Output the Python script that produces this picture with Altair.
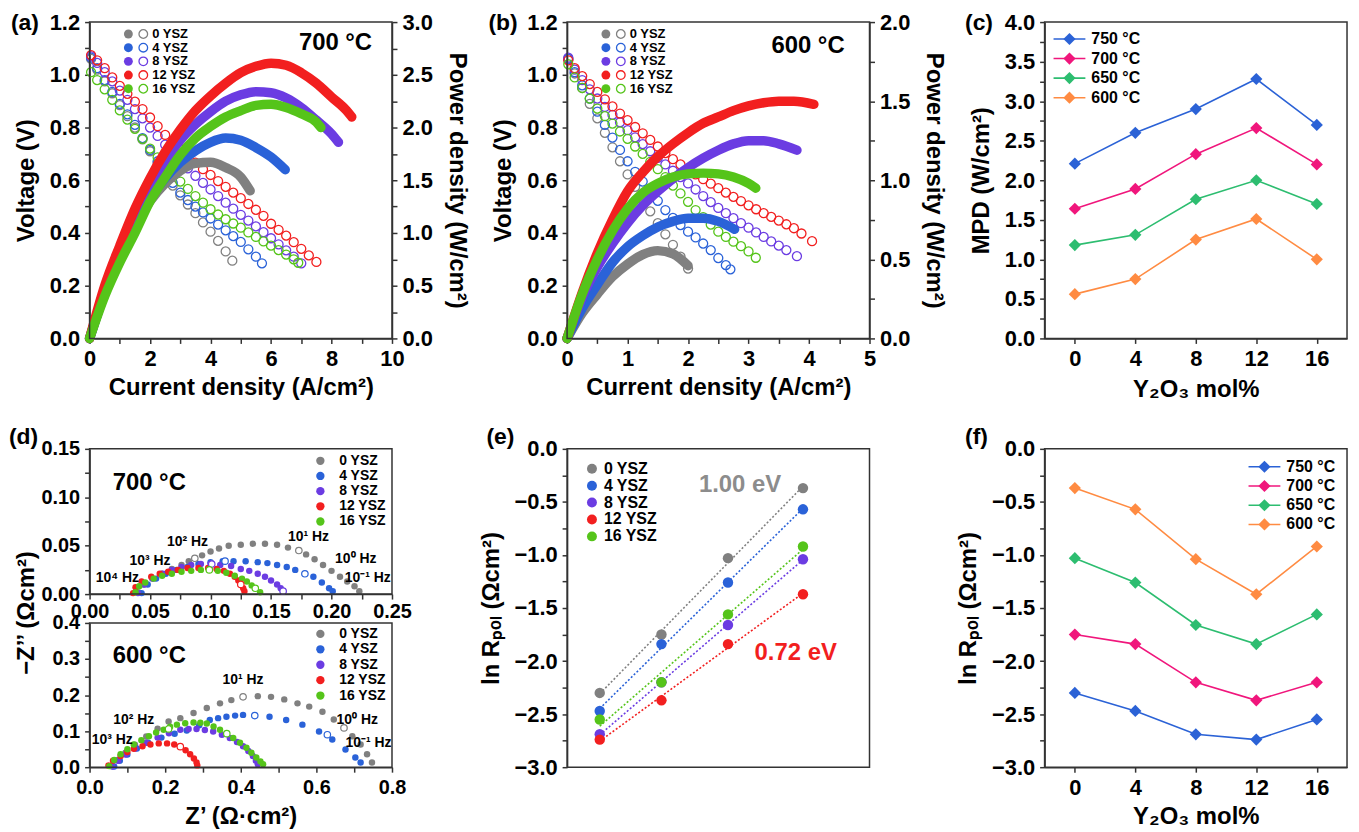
import altair as alt
import pandas as pd

FONT = "Liberation Sans"
INK = "#333333"

SERIES = ["0 YSZ", "4 YSZ", "8 YSZ", "12 YSZ", "16 YSZ"]
SERIES_COLORS = ["#808080", "#2a62d8", "#6b3ce2", "#f21f1f", "#55c41a"]
TEMPS = ["750 °C", "700 °C", "650 °C", "600 °C"]
TEMP_COLORS = ["#2b62d6", "#f0167c", "#2dbd70", "#ff8b42"]
MOL = [0, 4, 8, 12, 16]

# ---------------- (a) 700 °C : voltage (open circles), (I, V) ----------------
A_V_0 = [(0.05,1.06),(0.25,1.02),(0.5,0.975),(0.75,0.93),(1.0,0.885),(1.25,0.843),(1.5,0.80),(1.75,0.755),(2.0,0.71),(2.25,0.665),(2.5,0.62),(2.75,0.58),(3.0,0.543),(3.25,0.508),(3.5,0.475),(3.75,0.44),(4.0,0.405),(4.25,0.37),(4.5,0.33),(4.72,0.295)]
A_V_4 = [(0.05,1.065),(0.25,1.025),(0.5,0.98),(0.75,0.935),(1.0,0.89),(1.25,0.85),(1.5,0.81),(1.75,0.76),(2.0,0.715),(2.25,0.672),(2.5,0.63),(2.75,0.59),(3.0,0.553),(3.25,0.525),(3.5,0.50),(3.75,0.478),(4.0,0.455),(4.25,0.432),(4.5,0.41),(4.75,0.388),(5.0,0.366),(5.25,0.338),(5.5,0.31),(5.7,0.285)]
A_V_8 = [(0.05,1.07),(0.25,1.045),(0.5,1.01),(0.75,0.975),(1.0,0.94),(1.25,0.905),(1.5,0.87),(1.75,0.835),(2.0,0.80),(2.25,0.768),(2.5,0.735),(2.75,0.705),(3.0,0.675),(3.25,0.645),(3.5,0.617),(3.75,0.59),(4.0,0.565),(4.25,0.54),(4.5,0.515),(4.75,0.492),(5.0,0.469),(5.25,0.447),(5.5,0.425),(5.75,0.403),(6.0,0.38),(6.25,0.357),(6.5,0.334),(6.75,0.31),(7.0,0.285)]
A_V_12 = [(0.05,1.075),(0.25,1.055),(0.5,1.025),(0.75,0.99),(1.0,0.958),(1.25,0.928),(1.5,0.898),(1.75,0.87),(2.0,0.838),(2.25,0.805),(2.5,0.772),(2.75,0.745),(3.0,0.718),(3.25,0.692),(3.5,0.667),(3.75,0.642),(4.0,0.62),(4.25,0.597),(4.5,0.575),(4.75,0.553),(5.0,0.532),(5.25,0.51),(5.5,0.488),(5.75,0.465),(6.0,0.435),(6.25,0.412),(6.5,0.39),(6.75,0.365),(7.0,0.34),(7.25,0.315),(7.5,0.29)]
A_V_16 = [(0.05,1.01),(0.25,0.98),(0.5,0.945),(0.75,0.905),(1.0,0.865),(1.25,0.83),(1.5,0.795),(1.75,0.757),(2.0,0.72),(2.25,0.687),(2.5,0.655),(2.75,0.625),(3.0,0.595),(3.25,0.567),(3.5,0.54),(3.75,0.515),(4.0,0.49),(4.25,0.47),(4.5,0.452),(4.75,0.436),(5.0,0.42),(5.25,0.402),(5.5,0.385),(5.75,0.368),(6.0,0.352),(6.25,0.335),(6.5,0.318),(6.75,0.30),(6.9,0.287)]
# (a) power density (filled), (I, P)
A_P_0 = [(0,0),(0.5,0.43),(1.0,0.78),(1.5,1.07),(2.0,1.30),(2.5,1.47),(3.0,1.59),(3.5,1.66),(4.0,1.67),(4.5,1.62),(5.0,1.53),(5.31,1.40)]
A_P_4 = [(0,0),(0.5,0.43),(1.0,0.80),(1.5,1.10),(2.0,1.33),(2.5,1.52),(3.0,1.67),(3.5,1.78),(4.0,1.86),(4.5,1.90),(5.0,1.88),(5.5,1.81),(6.0,1.72),(6.47,1.60)]
A_P_8 = [(0,0),(0.5,0.45),(1.0,0.85),(1.5,1.18),(2.0,1.45),(2.5,1.68),(3.0,1.88),(3.5,2.03),(4.0,2.15),(4.5,2.25),(5.0,2.31),(5.5,2.34),(6.0,2.33),(6.5,2.28),(7.0,2.19),(7.5,2.07),(8.0,1.94),(8.23,1.86)]
A_P_12 = [(0,0),(0.5,0.50),(1.0,0.88),(1.5,1.23),(2.0,1.52),(2.5,1.77),(3.0,1.98),(3.5,2.16),(4.0,2.30),(4.5,2.42),(5.0,2.52),(5.5,2.58),(6.0,2.61),(6.5,2.59),(7.0,2.52),(7.5,2.42),(8.0,2.29),(8.5,2.16),(8.67,2.10)]
A_P_16 = [(0,0),(0.5,0.40),(1.0,0.72),(1.5,1.00),(2.0,1.30),(2.5,1.53),(3.0,1.74),(3.5,1.90),(4.0,2.01),(4.5,2.10),(5.0,2.16),(5.5,2.21),(6.0,2.22),(6.5,2.19),(7.0,2.13),(7.5,2.05),(7.65,2.00)]

# ---------------- (b) 600 °C ----------------
B_V_0 = [(0.02,1.06),(0.125,1.005),(0.25,0.95),(0.375,0.89),(0.5,0.835),(0.625,0.78),(0.75,0.725),(0.875,0.672),(1.0,0.622),(1.125,0.575),(1.25,0.528),(1.375,0.482),(1.5,0.437),(1.625,0.395),(1.75,0.355),(1.875,0.31),(2.0,0.265)]
B_V_4 = [(0.02,1.06),(0.125,1.01),(0.25,0.96),(0.375,0.91),(0.5,0.86),(0.625,0.81),(0.75,0.762),(0.875,0.715),(1.0,0.672),(1.125,0.632),(1.25,0.595),(1.375,0.56),(1.5,0.522),(1.625,0.487),(1.75,0.457),(1.875,0.43),(2.0,0.405),(2.125,0.383),(2.25,0.36),(2.375,0.335),(2.5,0.305),(2.625,0.278),(2.7,0.262)]
B_V_8 = [(0.02,1.065),(0.125,1.02),(0.25,0.98),(0.375,0.945),(0.5,0.91),(0.625,0.878),(0.75,0.848),(0.875,0.82),(1.0,0.79),(1.125,0.763),(1.25,0.737),(1.375,0.71),(1.5,0.685),(1.625,0.66),(1.75,0.636),(1.875,0.612),(2.0,0.588),(2.125,0.565),(2.25,0.54),(2.375,0.517),(2.5,0.495),(2.625,0.475),(2.75,0.456),(2.875,0.437),(3.0,0.42),(3.125,0.402),(3.25,0.385),(3.375,0.368),(3.5,0.352),(3.625,0.335),(3.8,0.312)]
B_V_12 = [(0.02,1.055),(0.125,1.025),(0.25,0.995),(0.375,0.965),(0.5,0.935),(0.625,0.907),(0.75,0.88),(0.875,0.853),(1.0,0.828),(1.125,0.802),(1.25,0.778),(1.375,0.753),(1.5,0.728),(1.625,0.703),(1.75,0.68),(1.875,0.66),(2.0,0.64),(2.125,0.622),(2.25,0.604),(2.375,0.587),(2.5,0.57),(2.625,0.553),(2.75,0.537),(2.875,0.521),(3.0,0.505),(3.125,0.49),(3.25,0.475),(3.375,0.461),(3.5,0.447),(3.625,0.433),(3.75,0.418),(3.875,0.398),(4.05,0.369)]
B_V_16 = [(0.02,1.04),(0.125,0.99),(0.25,0.95),(0.375,0.91),(0.5,0.872),(0.625,0.843),(0.75,0.815),(0.875,0.785),(1.0,0.757),(1.125,0.728),(1.25,0.70),(1.375,0.67),(1.5,0.642),(1.625,0.612),(1.75,0.58),(1.875,0.55),(2.0,0.518),(2.125,0.487),(2.25,0.46),(2.375,0.432),(2.5,0.405),(2.625,0.385),(2.75,0.367),(2.875,0.35),(3.0,0.33),(3.12,0.306)]
B_P_0 = [(0,0),(0.25,0.16),(0.5,0.28),(0.75,0.39),(1.0,0.47),(1.25,0.53),(1.5,0.555),(1.75,0.535),(2.0,0.46)]
B_P_4 = [(0,0),(0.25,0.19),(0.5,0.34),(0.75,0.48),(1.0,0.58),(1.25,0.65),(1.5,0.705),(1.75,0.74),(2.0,0.76),(2.25,0.76),(2.5,0.74),(2.77,0.69)]
B_P_8 = [(0,0),(0.25,0.26),(0.5,0.45),(0.75,0.60),(1.0,0.73),(1.25,0.84),(1.5,0.93),(1.75,1.01),(2.0,1.08),(2.25,1.14),(2.5,1.19),(2.75,1.23),(3.0,1.25),(3.25,1.25),(3.5,1.23),(3.8,1.19)]
B_P_12 = [(0,0),(0.25,0.29),(0.5,0.54),(0.75,0.75),(1.0,0.93),(1.25,1.05),(1.5,1.15),(1.75,1.23),(2.0,1.30),(2.25,1.36),(2.5,1.40),(2.75,1.44),(3.0,1.47),(3.25,1.49),(3.5,1.50),(3.75,1.50),(4.08,1.48)]
B_P_16 = [(0,0),(0.25,0.28),(0.5,0.50),(0.75,0.68),(1.0,0.82),(1.25,0.92),(1.5,0.98),(1.75,1.02),(2.0,1.04),(2.25,1.045),(2.5,1.04),(2.75,1.02),(3.0,0.98),(3.12,0.95)]

# ---------------- (c) MPD vs Y2O3 mol% ----------------
C_750 = [2.21, 2.60, 2.90, 3.28, 2.70]
C_700 = [1.64, 1.89, 2.33, 2.66, 2.20]
C_650 = [1.18, 1.31, 1.76, 2.00, 1.70]
C_600 = [0.56, 0.75, 1.25, 1.51, 1.00]

# ---------------- (d) Nyquist, (Z', -Z'') ----------------
D7_0 = [(0.040,0.002),(0.045,0.010),(0.052,0.016),(0.060,0.021),(0.068,0.026),(0.076,0.030),(0.082,0.034),(0.087,0.037),(0.093,0.040),(0.100,0.044),(0.107,0.047),(0.115,0.050),(0.125,0.051),(0.135,0.052),(0.145,0.052),(0.155,0.051),(0.164,0.048),(0.173,0.045),(0.179,0.041),(0.186,0.036),(0.193,0.030),(0.200,0.024),(0.207,0.018),(0.213,0.013),(0.219,0.008),(0.223,0.003)]
D7_4 = [(0.043,0.001),(0.048,0.010),(0.055,0.016),(0.063,0.021),(0.072,0.025),(0.081,0.028),(0.090,0.031),(0.100,0.033),(0.110,0.034),(0.119,0.034),(0.129,0.034),(0.139,0.033),(0.147,0.032),(0.155,0.030),(0.163,0.028),(0.170,0.025),(0.178,0.021),(0.185,0.018),(0.192,0.012),(0.198,0.006),(0.201,0.003)]
D7_8 = [(0.040,0.001),(0.045,0.010),(0.052,0.016),(0.060,0.021),(0.068,0.025),(0.076,0.028),(0.084,0.030),(0.092,0.031),(0.100,0.031),(0.108,0.030),(0.117,0.029),(0.125,0.026),(0.132,0.024),(0.139,0.021),(0.145,0.018),(0.150,0.014),(0.155,0.010),(0.158,0.006),(0.160,0.003)]
D7_12 = [(0.036,0.001),(0.038,0.007),(0.043,0.013),(0.051,0.018),(0.058,0.021),(0.065,0.023),(0.073,0.025),(0.081,0.027),(0.090,0.027),(0.098,0.027),(0.105,0.026),(0.111,0.024),(0.116,0.021),(0.120,0.018),(0.123,0.014),(0.125,0.010),(0.127,0.006),(0.128,0.003)]
D7_16 = [(0.038,0.002),(0.041,0.008),(0.046,0.012),(0.053,0.016),(0.060,0.019),(0.068,0.021),(0.076,0.023),(0.084,0.024),(0.092,0.025),(0.099,0.025),(0.106,0.024),(0.113,0.022),(0.120,0.019),(0.126,0.016),(0.130,0.013),(0.134,0.009),(0.137,0.006),(0.141,0.002)]
D6_0 = [(0.06,0.003),(0.075,0.02),(0.095,0.04),(0.12,0.062),(0.15,0.085),(0.18,0.107),(0.209,0.127),(0.24,0.136),(0.275,0.150),(0.31,0.164),(0.345,0.177),(0.375,0.186),(0.406,0.195),(0.445,0.197),(0.48,0.195),(0.515,0.188),(0.55,0.177),(0.581,0.168),(0.616,0.154),(0.646,0.132),(0.673,0.109),(0.695,0.086),(0.717,0.063),(0.734,0.036),(0.747,0.013)]
D6_4 = [(0.065,0.002),(0.08,0.018),(0.10,0.035),(0.125,0.052),(0.155,0.068),(0.19,0.082),(0.225,0.093),(0.257,0.102),(0.29,0.116),(0.318,0.131),(0.34,0.136),(0.362,0.140),(0.385,0.143),(0.406,0.145),(0.437,0.143),(0.476,0.140),(0.52,0.131),(0.563,0.118),(0.607,0.099),(0.642,0.077),(0.677,0.049),(0.703,0.027),(0.717,0.013)]
D6_8 = [(0.06,0.002),(0.075,0.018),(0.095,0.035),(0.12,0.052),(0.15,0.068),(0.18,0.082),(0.21,0.094),(0.24,0.104),(0.262,0.106),(0.283,0.106),(0.305,0.103),(0.327,0.099),(0.35,0.09),(0.371,0.081),(0.39,0.07),(0.406,0.058),(0.42,0.045),(0.432,0.031),(0.44,0.018),(0.445,0.008)]
D6_12 = [(0.05,0.005),(0.062,0.018),(0.082,0.031),(0.1,0.042),(0.117,0.051),(0.14,0.058),(0.161,0.063),(0.183,0.066),(0.205,0.066),(0.224,0.063),(0.24,0.057),(0.254,0.047),(0.266,0.036),(0.276,0.024),(0.283,0.013),(0.285,0.005)]
D6_16 = [(0.052,0.003),(0.065,0.02),(0.082,0.036),(0.1,0.05),(0.117,0.063),(0.137,0.075),(0.157,0.086),(0.176,0.096),(0.196,0.104),(0.213,0.112),(0.231,0.118),(0.253,0.122),(0.275,0.124),(0.293,0.123),(0.31,0.121),(0.328,0.113),(0.345,0.104),(0.363,0.093),(0.38,0.081),(0.398,0.068),(0.415,0.054),(0.428,0.04),(0.441,0.027),(0.452,0.016),(0.459,0.008)]
# decade-frequency points drawn hollow
D7_DECADE = [("0 YSZ",0.087,0.037),("0 YSZ",0.173,0.045),("4 YSZ",0.112,0.034),("4 YSZ",0.178,0.021),("8 YSZ",0.101,0.031),("8 YSZ",0.160,0.003),("12 YSZ",0.125,0.010),("16 YSZ",0.099,0.025),("16 YSZ",0.137,0.006)]
D6_DECADE = [("0 YSZ",0.406,0.195),("0 YSZ",0.673,0.109),("4 YSZ",0.437,0.143),("4 YSZ",0.629,0.09),("12 YSZ",0.24,0.057),("16 YSZ",0.209,0.106),("16 YSZ",0.363,0.093)]
# frequency annotations (text, Z', -Z'')
D7_HZ = [("10⁴ Hz",0.023,0.0166),("10³ Hz",0.050,0.034),("10² Hz",0.081,0.054),("10¹ Hz",0.181,0.059),("10⁰ Hz",0.220,0.036),("10⁻¹ Hz",0.230,0.017)]
D6_HZ = [("10³ Hz",0.060,0.075),("10² Hz",0.117,0.132),("10¹ Hz",0.406,0.243),("10⁰ Hz",0.708,0.132),("10⁻¹ Hz",0.738,0.066)]

# ---------------- (e)/(f) ln Rpol ----------------
E_X = [0.977, 1.028, 1.083, 1.145]          # 1000/T for 750, 700, 650, 600 °C
F_750 = [-2.30, -2.47, -2.69, -2.74, -2.55]
F_700 = [-1.75, -1.84, -2.20, -2.37, -2.20]
F_650 = [-1.03, -1.26, -1.66, -1.84, -1.56]
F_600 = [-0.37, -0.57, -1.04, -1.37, -0.92]
E_NOTES = [("1.00 eV", 1.093, -0.34, "#8c8c8c"), ("0.72 eV", 1.139, -1.92, "#f21f1f")]

# ============================ helpers ============================
W = 304
H1 = 318
H2 = 320


def ticks(a, b, step):
    n = int(round((b - a) / step))
    return [round(a + k * step, 4) for k in range(n + 1)]


def lab(m, fmt):
    return f"round(datum.value * {m}) % 2 == 0 ? format(datum.value, '{fmt}') : ''"


def scol():
    return alt.Color("series:N", scale=alt.Scale(domain=SERIES, range=SERIES_COLORS), legend=None)


def tcol():
    return alt.Color("temp:N", scale=alt.Scale(domain=TEMPS, range=TEMP_COLORS), legend=None)


def label(txt, x, y, size, align="left", baseline="top", color="black", angle=0):
    return alt.Chart(pd.DataFrame({"t": [txt]})).mark_text(
        font=FONT, fontWeight="bold", fontSize=size, align=align, baseline=baseline,
        color=color, angle=angle).encode(x=alt.value(x), y=alt.value(y), text="t:N")


def frame(y0, y1):
    return alt.Chart(pd.DataFrame({"k": [0]})).mark_rect(
        fillOpacity=0, stroke=INK, strokeWidth=1.5).encode(
        x=alt.value(0), x2=alt.value(W), y=alt.value(y0), y2=alt.value(y1))


def long(arrs, a, b):
    return pd.DataFrame([{"series": s, a: p, b: q} for s, arr in zip(SERIES, arrs) for p, q in arr])


def iv_panel(volt, power, xmax, xstep, xm, pmax, tag, temp_txt, temp_x, temp_y):
    open_df = long(volt, "I", "V")
    pow_df = long(power, "I", "P")
    x = alt.X("I:Q", scale=alt.Scale(domain=[0, xmax], nice=False, zero=False),
              axis=alt.Axis(values=ticks(0, xmax, xstep), labelExpr=lab(xm, ".0f"),
                            title="Current density (A/cm²)", titlePadding=6))
    opens = alt.Chart(open_df).mark_point(shape="circle", filled=False, size=82, strokeWidth=1.3,
                                          opacity=1).encode(
        x=x,
        y=alt.Y("V:Q", scale=alt.Scale(domain=[0, 1.2], nice=False),
                axis=alt.Axis(orient="left", values=ticks(0, 1.2, 0.1), labelExpr=lab(10, ".1f"),
                              title="Voltage (V)", titlePadding=11)),
        color=scol())
    pw = alt.Chart(pow_df).mark_line(strokeWidth=9.5, strokeCap="round", strokeJoin="round",
                                     interpolate="monotone").encode(
        x=x,
        y=alt.Y("P:Q", scale=alt.Scale(domain=[0, pmax], nice=False),
                axis=alt.Axis(orient="right", values=ticks(0, pmax, 0.25), labelExpr=lab(4, ".1f"),
                              title="Power density (W/cm²)", titlePadding=12)),
        color=scol())
    leg = pd.DataFrame({"series": SERIES, "row": list(range(5))})
    ly = alt.Y("row:Q", scale=alt.Scale(domain=[0, 4], range=[12, 67]), axis=None)
    lf = alt.Chart(leg).mark_circle(size=80, opacity=1).encode(x=alt.value(39), y=ly, color=scol())
    lo = alt.Chart(leg).mark_point(shape="circle", filled=False, size=75, strokeWidth=1.3,
                                   opacity=1).encode(x=alt.value(54), y=ly, color=scol())
    lt = alt.Chart(leg).mark_text(font=FONT, fontWeight="bold", fontSize=13, align="left",
                                  baseline="middle", color="black").encode(
        x=alt.value(63), y=ly, text="series:N")
    return alt.layer(
        opens, pw, lf, lo, lt,
        label(temp_txt, temp_x, temp_y, 24, align="right", baseline="middle"),
        label(tag, -79, -10, 23),
        frame(0, H1),
    ).resolve_scale(y="independent").properties(width=W, height=H1)


A = iv_panel([A_V_0, A_V_4, A_V_8, A_V_12, A_V_16], [A_P_0, A_P_4, A_P_8, A_P_12, A_P_16],
             10, 1, 1, 3.0, "(a)", "700 °C", 284, 21)
B = iv_panel([B_V_0, B_V_4, B_V_8, B_V_12, B_V_16], [B_P_0, B_P_4, B_P_8, B_P_12, B_P_16],
             5, 0.5, 2, 2.0, "(b)", "600 °C", 279, 24)


def temp_panel(vals, dom, ystep, ytitle, tag, leg_rows, leg_x, xtitle_pad, ylab_m):
    df = pd.DataFrame([{"temp": t, "mol": m, "val": v} for t, arr in zip(TEMPS, vals)
                       for m, v in zip(MOL, arr)])
    x = alt.X("mol:Q", scale=alt.Scale(domain=[-2, 18], nice=False, zero=False),
              axis=alt.Axis(values=MOL, format="d", title="Y₂O₃ mol%", titlePadding=xtitle_pad))
    ysc = alt.Scale(domain=dom, nice=False, zero=False)
    lines = alt.Chart(df).mark_line(strokeWidth=1.6).encode(
        x=x, y=alt.Y("val:Q", scale=ysc, axis=None), color=tcol())
    pts = alt.Chart(df).mark_point(shape="diamond", filled=True, size=150, opacity=1).encode(
        x=x,
        y=alt.Y("val:Q", scale=ysc,
                axis=alt.Axis(values=ticks(dom[0], dom[1], ystep), labelExpr=lab(ylab_m, ".1f"),
                              title=ytitle, titlePadding=11)),
        color=tcol())
    leg = pd.DataFrame({"temp": TEMPS, "row": list(range(4))})
    ly = alt.Y("row:Q", scale=alt.Scale(domain=[0, 3], range=leg_rows), axis=None)
    lr = alt.Chart(leg).mark_rule(strokeWidth=1.6).encode(
        x=alt.value(leg_x), x2=alt.value(leg_x + 32), y=ly, color=tcol())
    lp = alt.Chart(leg).mark_point(shape="diamond", filled=True, size=150, opacity=1).encode(
        x=alt.value(leg_x + 16), y=ly, color=tcol())
    lt = alt.Chart(leg).mark_text(font=FONT, fontWeight="bold", fontSize=16, align="left",
                                  baseline="middle", color="black").encode(
        x=alt.value(leg_x + 38), y=ly, text="temp:N")
    h = H1 if tag == "(c)" else H2
    ty = -10 if tag == "(c)" else -23
    return alt.layer(lines, pts, lr, lp, lt, label(tag, -80, ty, 23), frame(0, h)).resolve_scale(
        y="independent").properties(width=W, height=h)


C = temp_panel([C_750, C_700, C_650, C_600], [0, 4], 0.25, "MPD (W/cm²)", "(c)", [17, 76], 9, 8, 4)
F = temp_panel([F_750, F_700, F_650, F_600], [-3, 0], 0.25, "ln Rₚₒₗ (Ωcm²)", "(f)", [18, 76], 205, 7, 4)

# ---------------- (d) ----------------
TOP_Y = [146, 0]
BOT_Y = [H2, 175]


def dxy(xdom, ydom, yrange, xaxis=None, yaxis=None):
    x = alt.X("x:Q", scale=alt.Scale(domain=xdom, nice=False, zero=False), axis=xaxis)
    y = alt.Y("y:Q", scale=alt.Scale(domain=ydom, range=yrange, nice=False, zero=False), axis=yaxis)
    return x, y


def d_sub(arrs, decade, hz, xdom, ydom, yrange, xaxis, yaxis, leg_rows):
    df = long(arrs, "x", "y")
    x, y = dxy(xdom, ydom, yrange, xaxis, yaxis)
    pts = alt.Chart(df).mark_circle(size=42, opacity=1).encode(x=x, y=y, color=scol())
    x2, y2 = dxy(xdom, ydom, yrange)
    hol_df = pd.DataFrame([{"series": s, "x": a, "y": b} for s, a, b in decade])
    hol = alt.Chart(hol_df).mark_circle(size=42, opacity=1, fill="white", strokeWidth=1.2).encode(
        x=x2, y=y2,
        stroke=alt.Stroke("series:N", scale=alt.Scale(domain=SERIES, range=SERIES_COLORS), legend=None))
    x3, y3 = dxy(xdom, ydom, yrange)
    hz_df = pd.DataFrame([{"t": t, "x": a, "y": b} for t, a, b in hz])
    hzt = alt.Chart(hz_df).mark_text(font=FONT, fontWeight="bold", fontSize=14, color="black").encode(
        x=x3, y=y3, text="t:N")
    leg = pd.DataFrame({"series": SERIES, "row": list(range(5))})
    ly = alt.Y("row:Q", scale=alt.Scale(domain=[0, 4], range=leg_rows), axis=None)
    lc = alt.Chart(leg).mark_circle(size=70, opacity=1).encode(x=alt.value(232), y=ly, color=scol())
    lt = alt.Chart(leg).mark_text(font=FONT, fontWeight="bold", fontSize=14, align="left",
                                  baseline="middle", color="black").encode(
        x=alt.value(251), y=ly, text="series:N")
    return [pts, hol, hzt, lc, lt]


top_layers = d_sub(
    [D7_0, D7_4, D7_8, D7_12, D7_16], D7_DECADE, D7_HZ, [0, 0.25], [0, 0.15], TOP_Y,
    alt.Axis(orient="bottom", offset=-(H2 - 146), values=ticks(0, 0.25, 0.025),
             labelExpr=lab(40, ".2f"), title=None, labelFontSize=20, labelPadding=3),
    alt.Axis(orient="left", values=ticks(0, 0.15, 0.025), labelExpr=lab(40, ".2f"), title=None,
             labelFontSize=20),
    [12, 73])
bot_layers = d_sub(
    [D6_0, D6_4, D6_8, D6_12, D6_16], D6_DECADE, D6_HZ, [0, 0.8], [0, 0.4], BOT_Y,
    alt.Axis(orient="bottom", values=ticks(0, 0.8, 0.1), labelExpr=lab(10, ".1f"),
             title="Z’ (Ω·cm²)", titlePadding=8, labelFontSize=20),
    alt.Axis(orient="left", values=ticks(0, 0.4, 0.05), labelExpr=lab(20, ".1f"), title=None,
             labelFontSize=20),
    [186, 248])

D = alt.layer(
    *top_layers, *bot_layers,
    label("700 °C", 60, 34, 24, align="center", baseline="middle"),
    label("600 °C", 60, 208, 24, align="center", baseline="middle"),
    label("−Z’’ (Ωcm²)", -63, 165, 24, align="center", baseline="middle", angle=270),
    label("(d)", -81, -23, 23),
    frame(0, 146), frame(175, H2),
).resolve_scale(x="independent", y="independent").properties(width=W, height=H2)

# ---------------- (e) ----------------
F_BY_T = [F_750, F_700, F_650, F_600]
e_df = pd.DataFrame([{"series": s, "x": E_X[i], "y": F_BY_T[i][j]}
                     for j, s in enumerate(SERIES) for i in range(4)])
ex = alt.X("x:Q", scale=alt.Scale(domain=[0.95, 1.2], nice=False, zero=False),
           axis=alt.Axis(values=ticks(0.95, 1.2, 0.025), labelExpr=lab(40, ".2f"),
                         title="1000/T (1/K)", titlePadding=5))
esc = alt.Scale(domain=[-3, 0], nice=False, zero=False)
e_lines = alt.Chart(e_df).transform_regression("x", "y", groupby=["series"]).mark_line(
    strokeDash=[2, 2], strokeWidth=1.6).encode(x=ex, y=alt.Y("y:Q", scale=esc, axis=None), color=scol())
e_pts = alt.Chart(e_df).mark_circle(size=110, opacity=1).encode(
    x=ex,
    y=alt.Y("y:Q", scale=esc, axis=alt.Axis(values=ticks(-3, 0, 0.25), labelExpr=lab(4, ".1f"),
                                            title="ln Rₚₒₗ (Ωcm²)", titlePadding=11)),
    color=scol())
e_leg = pd.DataFrame({"series": SERIES, "row": list(range(5))})
e_ly = alt.Y("row:Q", scale=alt.Scale(domain=[0, 4], range=[20, 88]), axis=None)
e_lc = alt.Chart(e_leg).mark_circle(size=100, opacity=1).encode(x=alt.value(25), y=e_ly, color=scol())
e_lt = alt.Chart(e_leg).mark_text(font=FONT, fontWeight="bold", fontSize=16, align="left",
                                  baseline="middle", color="black").encode(
    x=alt.value(37), y=e_ly, text="series:N")
e_notes = []
for txt, nx, ny, col in E_NOTES:
    e_notes.append(alt.Chart(pd.DataFrame({"t": [txt], "x": [nx], "y": [ny]})).mark_text(
        font=FONT, fontWeight="bold", fontSize=24, color=col).encode(
        x=alt.X("x:Q", scale=alt.Scale(domain=[0.95, 1.2], nice=False, zero=False), axis=None),
        y=alt.Y("y:Q", scale=esc, axis=None), text="t:N"))
E = alt.layer(e_lines, e_pts, e_lc, e_lt, *e_notes, label("(e)", -81, -23, 23), frame(0, H2)).resolve_scale(
    y="independent").properties(width=W, height=H2)

chart = alt.concat(A, B, C, D, E, F, columns=3, spacing={"row": 111, "column": 176},
                   bounds="flush").resolve_scale(
    color="independent", stroke="independent"
).properties(
    padding={"left": 0, "top": 0, "right": 2, "bottom": 0}
).configure_view(stroke="transparent").configure_axis(
    domainColor=INK, domainWidth=1.5, tickColor=INK, tickWidth=1.5, tickSize=5,
    labelFont=FONT, labelFontWeight="bold", labelFontSize=22, labelColor="black", labelPadding=5,
    labelFlush=False, labelOverlap=False, titleFont=FONT, titleFontWeight="bold",
    titleFontSize=24, titleColor="black", grid=False)

chart.save("out.html", embed_options={"renderer": "svg", "actions": False})
